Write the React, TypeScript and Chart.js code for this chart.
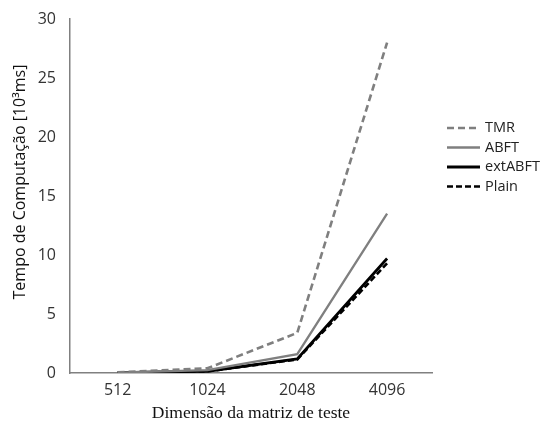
import React, { useEffect, useRef } from 'react';
import { Chart, registerables } from 'chart.js';
Chart.register(...registerables);

const sizes = ['512', '1024', '2048', '4096'];
const tmr = [0.05, 0.4, 3.4, 28];
const abft = [0.03, 0.25, 1.6, 13.5];
const extAbft = [0.02, 0.15, 1.2, 9.7];
const plain = [0.02, 0.14, 1.15, 9.3];
const seriesNames = ['TMR', 'ABFT', 'extABFT', 'Plain'];
const yTitle = 'Tempo de Computação [10³ms]';

const toPoints = (vals: number[]) => vals.map((v, i) => ({ x: i, y: v }));

const legendPlugin = {
  id: 'lineLegend',
  afterDraw(chart: any) {
    const ctx = chart.ctx;
    const x0 = 447;
    const y0 = 128;
    const step = 19.5;
    ctx.save();
    chart.data.datasets.forEach((ds: any, i: number) => {
      const y = y0 + i * step;
      ctx.beginPath();
      ctx.strokeStyle = ds.borderColor;
      ctx.lineWidth = ds.borderWidth;
      ctx.setLineDash(ds.borderDash || []);
      ctx.moveTo(x0, y);
      ctx.lineTo(x0 + 33, y);
      ctx.stroke();
      ctx.setLineDash([]);
      ctx.fillStyle = '#222';
      ctx.font = '14.5px "Open Sans"';
      ctx.textBaseline = 'middle';
      ctx.textAlign = 'left';
      ctx.fillText(ds.label, x0 + 38, y);
    });
    // y-axis title
    ctx.translate(20, 182);
    ctx.rotate(-Math.PI / 2);
    ctx.font = '16px "Open Sans"';
    ctx.fillStyle = '#111';
    ctx.textAlign = 'center';
    ctx.textBaseline = 'middle';
    ctx.fillText(yTitle, 0, 0);
    ctx.restore();
  },
};

export default function App() {
  const ref = useRef<HTMLCanvasElement>(null);
  useEffect(() => {
    if (!ref.current) return;
    const chart = new Chart(ref.current, {
      type: 'line',
      data: {
        datasets: [
          { label: seriesNames[0], data: toPoints(tmr), borderColor: '#7f7f7f', borderWidth: 2.6, borderDash: [7, 4], pointRadius: 0, tension: 0 },
          { label: seriesNames[1], data: toPoints(abft), borderColor: '#7f7f7f', borderWidth: 2.3, pointRadius: 0, tension: 0 },
          { label: seriesNames[2], data: toPoints(extAbft), borderColor: '#000000', borderWidth: 2.8, pointRadius: 0, tension: 0 },
          { label: seriesNames[3], data: toPoints(plain), borderColor: '#000000', borderWidth: 2.6, borderDash: [6, 3], pointRadius: 0, tension: 0 },
        ],
      },
      options: {
        responsive: false,
        animation: false,
        layout: { padding: { left: 0, right: 111, top: 19, bottom: 0 } },
        plugins: { legend: { display: false }, tooltip: { enabled: false } },
        scales: {
          x: {
            type: 'linear',
            min: -0.53,
            max: 3.5,
            afterBuildTicks: (s: any) => { s.ticks = sizes.map((_, i) => ({ value: i })); },
            afterFit: (s: any) => { s.height = 51; },
            grid: { display: false },
            border: { display: true, color: '#808080', width: 1.5 },
            ticks: {
              callback: (v: any) => sizes[v] ?? '',
              color: '#333',
              font: { family: '"Open Sans"', size: 16 },
              padding: 0,
              maxRotation: 0,
            },
            title: {
              display: true,
              text: 'Dimensão da matriz de teste',
              color: '#111',
              font: { family: '"Liberation Serif", "Times New Roman", serif', size: 17.5 },
              padding: { top: 4, bottom: 0 },
            },
          },
          y: {
            type: 'linear',
            min: 0,
            max: 30,
            afterFit: (s: any) => { s.width = 70; },
            grid: { display: false },
            border: { display: true, color: '#808080', width: 1.5 },
            ticks: {
              stepSize: 5,
              color: '#333',
              font: { family: '"Open Sans"', size: 16 },
              padding: 6,
            },
          },
        },
      },
      plugins: [legendPlugin],
    });
    return () => chart.destroy();
  }, []);
  return (
    <div style={{ position: 'absolute', left: 0, top: 0, width: 543, height: 424, background: '#fff' }}>
      <canvas ref={ref} width={543} height={424} />
    </div>
  );
}
